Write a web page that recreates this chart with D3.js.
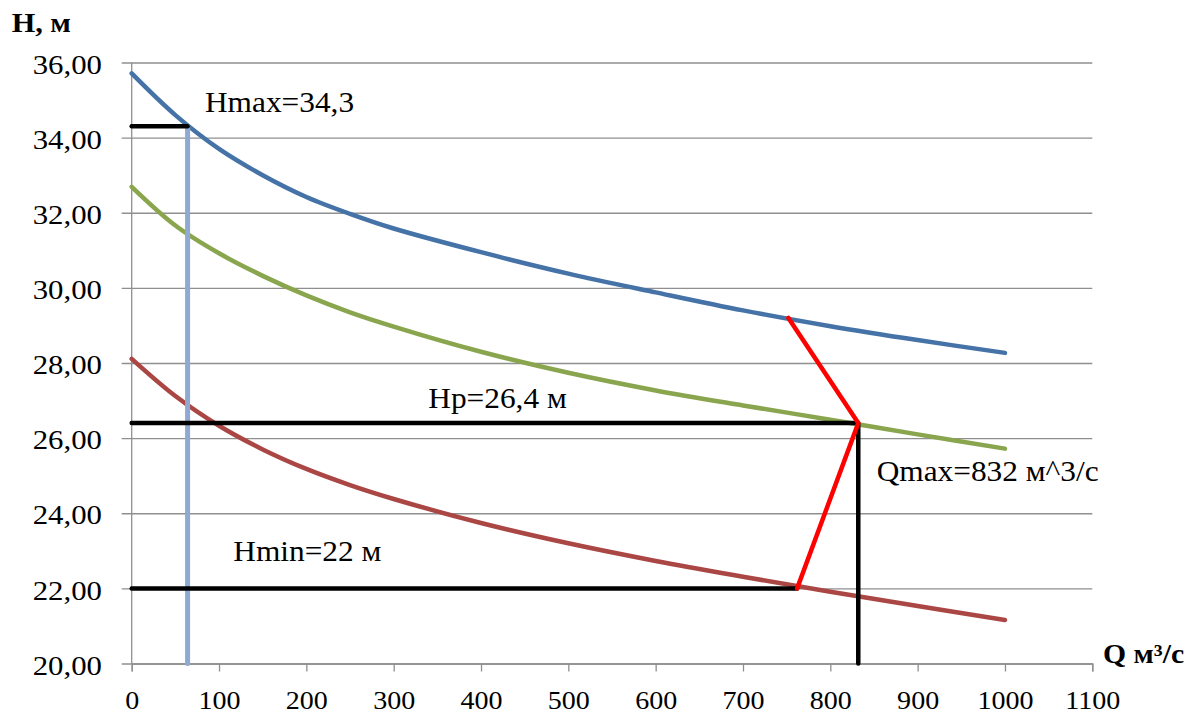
<!DOCTYPE html>
<html>
<head>
<meta charset="utf-8">
<script src="https://cdn.jsdelivr.net/npm/d3@7"></script>
<style>
  html, body { margin: 0; padding: 0; background: #fff; }
  svg { display: block; }
</style>
</head>
<body>
<svg id="chart" width="1201" height="715"></svg>
<script>
// Pump head curves H(Q)
const qValues  = [0, 50, 100, 150, 200, 250, 300, 400, 500, 600, 700, 800, 900, 1000];
const hUpper   = [35.71, 34.60, 33.70, 33.00, 32.42, 31.97, 31.58, 30.95, 30.38, 29.88, 29.40, 28.98, 28.61, 28.27];
const hNominal = [32.69, 31.66, 30.92, 30.32, 29.80, 29.35, 28.97, 28.30, 27.74, 27.27, 26.87, 26.49, 26.10, 25.72];
const hLower   = [28.11, 27.12, 26.33, 25.70, 25.18, 24.75, 24.38, 23.74, 23.20, 22.73, 22.31, 21.91, 21.53, 21.16];

// Operating points
const qAtHmax = 64;
const hMax = 34.3;
const hP = 26.4;
const hMin = 22;
const qMax = 832;
const qTopRed = 752, hTopRed = 29.2;
const qHmin = 762;

// Axis ticks
const xTicks = [0, 100, 200, 300, 400, 500, 600, 700, 800, 900, 1000, 1100];
const yTicks = [20, 22, 24, 26, 28, 30, 32, 34, 36];

// Text
const yTitle = "H, м";
const xTitle = "Q м³/с";
const labelHmax = "Hmax=34,3";
const labelHp = "Hp=26,4 м";
const labelHmin = "Hmin=22 м";
const labelQmax = "Qmax=832 м^3/с";

const FONT = "'Liberation Serif', 'Times New Roman', Tinos, serif";
const svg = d3.select("#chart").style("font-family", FONT);
const plotLeft = 131.7, plotRight = 1092.3, plotTop = 62.5, plotBottom = 663.5;
const sx = 1.1; // horizontal text stretch

const x = d3.scaleLinear().domain([0, 1100]).range([plotLeft, plotRight]);
const y = d3.scaleLinear().domain([20, 36]).range([plotBottom, plotTop]);

const gridColor = "#8f8f8f";
const fmt = d3.formatLocale({decimal: ",", thousands: " ", grouping: [3], currency: ["", ""]}).format(".2f");

// Horizontal gridlines + y axis
const yAxis = d3.axisLeft(y).tickValues(yTicks).tickSize(10).tickFormat(fmt);
const gy = svg.append("g").attr("transform", `translate(${plotLeft},0)`).call(yAxis)
  .attr("font-family", null).attr("font-size", null);
gy.select(".domain").remove();
gy.selectAll(".tick line").attr("stroke", gridColor).attr("stroke-width", 1.3)
  .attr("x1", -10).attr("x2", plotRight - plotLeft);
gy.selectAll(".tick text")
  .attr("x", -29.7 / sx).attr("dy", "0.38em")
  .attr("transform", `scale(${sx},1)`)
  .attr("fill", "#000")
  .style("font-size", "28px").style("font-family", FONT);

// Vertical axis line
svg.append("line").attr("x1", plotLeft).attr("x2", plotLeft).attr("y1", plotTop).attr("y2", plotBottom)
  .attr("stroke", gridColor).attr("stroke-width", 1.3);

// x axis
const xAxis = d3.axisBottom(x).tickValues(xTicks).tickSize(8).tickFormat(d3.format("d"));
const gx = svg.append("g").attr("transform", `translate(0,${plotBottom})`).call(xAxis)
  .attr("font-family", null).attr("font-size", null);
gx.select(".domain").attr("stroke", gridColor).attr("stroke-width", 1.3);
gx.selectAll(".tick line").attr("stroke", gridColor).attr("stroke-width", 1.3);
gx.selectAll(".tick text")
  .attr("y", 45.5).attr("dy", 0)
  .attr("transform", `scale(${sx},1)`)
  .attr("x", 0)
  .attr("fill", "#000")
  .style("font-size", "25.5px").style("font-family", FONT);

// Head curves
const line = d3.line().x(d => x(d[0])).y(d => y(d[1])).curve(d3.curveCatmullRom.alpha(0.5));
const series = [
  {values: hUpper, color: "#4572A7"},
  {values: hNominal, color: "#89A54E"},
  {values: hLower, color: "#AA4643"}
];
series.forEach(s => {
  svg.append("path")
    .datum(qValues.map((q, i) => [q, s.values[i]]))
    .attr("d", line)
    .attr("fill", "none")
    .attr("stroke", s.color)
    .attr("stroke-width", 4.5)
    .attr("stroke-linecap", "round")
    .attr("stroke-linejoin", "round");
});

const straight = d3.line().x(d => x(d[0])).y(d => y(d[1]));
function seg(points, color, width) {
  svg.append("path").attr("d", straight(points))
    .attr("fill", "none").attr("stroke", color).attr("stroke-width", width)
    .attr("stroke-linecap", "round").attr("stroke-linejoin", "round");
}

// Light blue vertical at Hmax flow
seg([[qAtHmax, hMax], [qAtHmax, 20]], "#8FA9D2", 5);

// Black reference lines
seg([[0, hMax], [qAtHmax, hMax]], "#000", 4.5);
seg([[0, hP], [qMax, hP], [qMax, 20]], "#000", 4.5);
seg([[0, hMin], [qHmin, hMin]], "#000", 4.5);

// Red operating range
seg([[qTopRed, hTopRed], [qMax, hP], [qHmin, hMin]], "#FF0000", 4.5);

// Text labels
function label(px, py, text, size, anchor, weight) {
  svg.append("text")
    .attr("transform", `translate(${px},${py}) scale(${sx},1)`)
    .attr("text-anchor", anchor)
    .attr("fill", "#000")
    .style("font-family", FONT)
    .style("font-size", size + "px")
    .style("font-weight", weight || "normal")
    .text(text);
}
label(11.7, 31.7, yTitle, 27.5, "start", "bold");
label(1103, 663.3, xTitle, 27, "start", "bold");
label(205, 112.3, labelHmax, 28.5, "start");
label(428.3, 408.3, labelHp, 28.5, "start");
label(233.3, 561, labelHmin, 28.5, "start");
label(876.7, 480.5, labelQmax, 28.5, "start");
</script>
</body>
</html>
